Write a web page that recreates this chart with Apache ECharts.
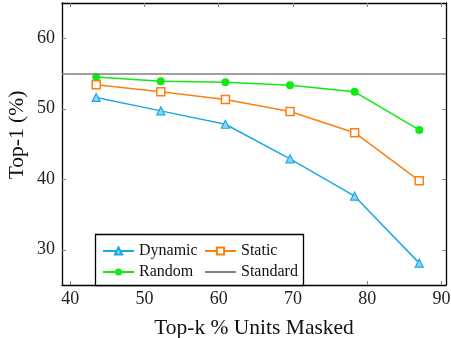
<!DOCTYPE html>
<html><head><meta charset="utf-8">
<script src="https://cdn.jsdelivr.net/npm/echarts@6/dist/echarts.min.js"></script>
<style>html,body{margin:0;padding:0;background:#fff}#c{width:451px;height:338px}</style>
</head><body><div id="c"></div>
<script>
const xValues = [43.5, 52.2, 60.9, 69.6, 78.3, 87.0];
const dynamicVals = [51.6, 49.7, 47.8, 42.9, 37.6, 28.1];
const staticVals = [53.4, 52.4, 51.3, 49.6, 46.6, 39.8];
const randomVals = [54.5, 53.9, 53.75, 53.35, 52.4, 47.0];
const standardVal = 55;
const xTicks = [40, 50, 60, 70, 80, 90];
const yTicks = [30, 40, 50, 60];

const font = 'Liberation Serif';
const pair = v => v.map((y, i) => [xValues[i], y]);
const chart = echarts.init(document.getElementById('c'));
const tickStyle = {show: true, inside: true, length: 4, lineStyle: {color: '#888', width: 1}};
const xBase = {type: 'value', min: 38.9, max: 90.6, interval: 10,
  axisLine: {show: true, onZero: false, lineStyle: {color: '#000', width: 1.3}},
  splitLine: {show: false}, axisTick: tickStyle};
const yBase = {type: 'value', min: 25, max: 65, interval: 10,
  axisLine: {show: true, onZero: false, lineStyle: {color: '#000', width: 1.3}},
  splitLine: {show: false}, axisTick: tickStyle};
const green = '#10ea10';
chart.setOption({
  animation: false,
  textStyle: {fontFamily: font},
  grid: {left: 62, right: 5, top: 3, bottom: 53, containLabel: false, outerBoundsMode: 'none'},
  xAxis: [
    Object.assign({}, xBase, {position: 'bottom',
      axisLabel: {fontFamily: font, fontSize: 18, color: '#222', margin: 5,
        customValues: xTicks},
      axisTick: Object.assign({}, tickStyle, {customValues: xTicks}),
      name: 'Top-k % Units Masked', nameLocation: 'middle', nameGap: 32,
      nameTextStyle: {fontFamily: font, fontSize: 21.5, color: '#111'}}),
    Object.assign({}, xBase, {position: 'top', axisLabel: {show: false},
      axisTick: Object.assign({}, tickStyle, {customValues: xTicks})})
  ],
  yAxis: [
    Object.assign({}, yBase, {position: 'left',
      axisLabel: {fontFamily: font, fontSize: 18, color: '#222', margin: 7,
        customValues: yTicks},
      axisTick: Object.assign({}, tickStyle, {customValues: yTicks}),
      name: 'Top-1 (%)', nameLocation: 'middle', nameGap: 34, nameMoveOverlap: false,
      nameTextStyle: {fontFamily: font, fontSize: 21.5, color: '#111', padding: [0, 0, 0, 18]}}),
    Object.assign({}, yBase, {position: 'right', axisLabel: {show: false},
      axisTick: Object.assign({}, tickStyle, {customValues: yTicks})})
  ],
  graphic: [{type: 'rect', shape: {x: 95.5, y: 234.5, width: 208, height: 51},
    style: {fill: '#fff', stroke: '#000', lineWidth: 1.3}, z: 5}],
  legend: [
    {data: ['Dynamic', 'Random'], orient: 'vertical', left: 97, top: 238,
      itemWidth: 31, itemHeight: 9, itemGap: 5, z: 10,
      textStyle: {fontFamily: font, fontSize: 16, color: '#111'}},
    {data: ['Static', {name: 'Standard', itemStyle: {opacity: 0}}], orient: 'vertical', left: 199, top: 238,
      itemWidth: 31, itemHeight: 9, itemGap: 5, z: 10,
      textStyle: {fontFamily: font, fontSize: 16, color: '#111'}}
  ],
  series: [
    {name: 'Standard', type: 'line', data: [], symbol: 'none', color: '#808080',
      lineStyle: {color: '#808080', width: 1.5},
      markLine: {silent: true, symbol: 'none', label: {show: false},
        lineStyle: {color: '#808080', width: 1.5, type: 'solid'},
        data: [{yAxis: standardVal}]}},
    {name: 'Random', type: 'line', data: pair(randomVals), color: green,
      symbol: 'circle', symbolSize: 8, lineStyle: {width: 1.5, color: green},
      itemStyle: {color: green}},
    {name: 'Static', type: 'line', data: pair(staticVals), color: '#ff7f0e',
      symbol: 'rect', symbolSize: 8, lineStyle: {width: 1.5, color: '#ff7f0e'},
      itemStyle: {color: '#fff', borderColor: '#ff7f0e', borderWidth: 1.5}},
    {name: 'Dynamic', type: 'line', data: pair(dynamicVals), color: '#19a8e6',
      symbol: 'triangle', symbolSize: 8, lineStyle: {width: 1.5, color: '#19a8e6'},
      itemStyle: {color: '#8fd4f2', borderColor: '#19a8e6', borderWidth: 1.2}}
  ]
});
</script></body></html>
